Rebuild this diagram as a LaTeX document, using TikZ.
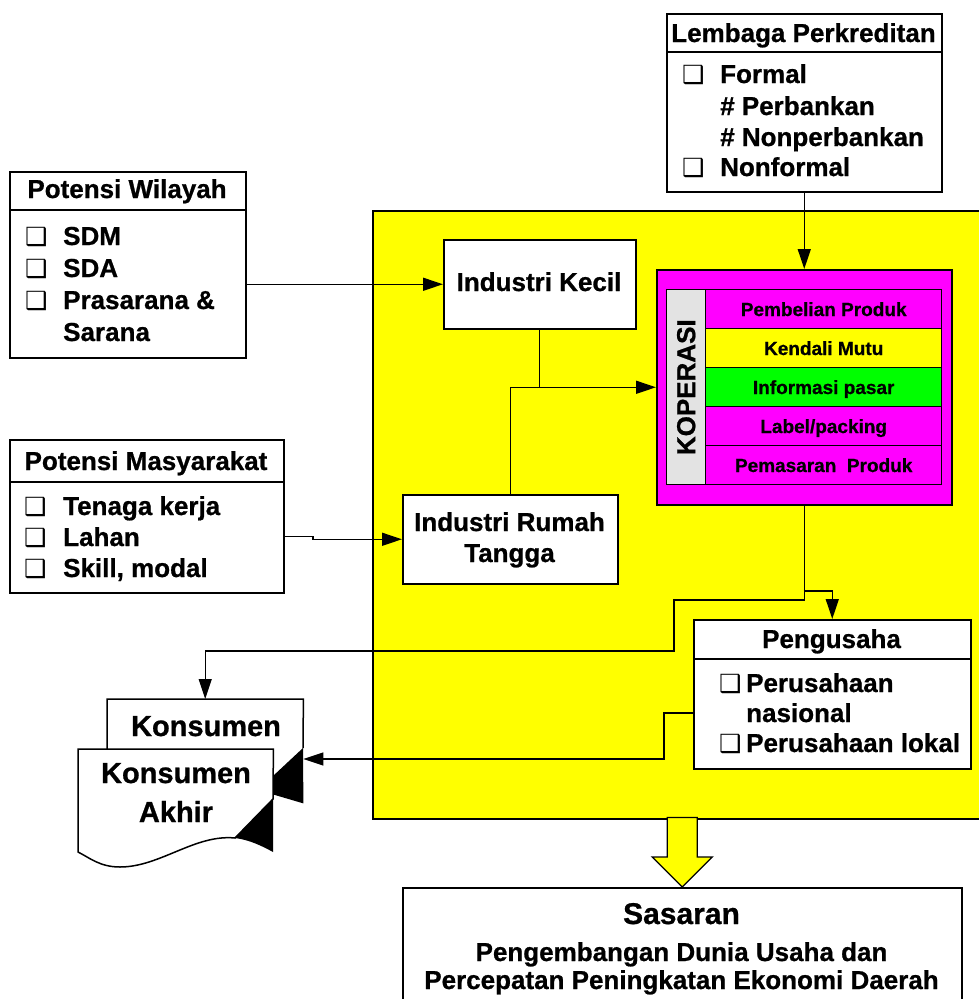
\documentclass[tikz,border=0pt]{standalone}
\usepackage{fontspec}
\setmainfont{Liberation Sans}[BoldFeatures={FakeBold=0.8}]
\newfontfamily\bulfont{DejaVu Sans}
\usetikzlibrary{arrows.meta,calc}
\definecolor{ylw}{HTML}{FFFF00}
\definecolor{mgt}{HTML}{FF00FF}
\definecolor{grn}{HTML}{00FF00}
\definecolor{gry}{HTML}{E3E3E3}
\begin{document}
\begin{tikzpicture}[x=1pt,y=-1pt,
  box/.style={draw, line width=1.5pt, inner sep=0, anchor=north west, fill=white},
  conn/.style={line width=1.3pt},
  arr/.style={conn, -{Triangle[length=20pt,width=13pt]}},
  big/.style={font=\fontsize{26}{30}\selectfont\bfseries, inner sep=0},
  ttl/.style={big, anchor=base},
  itm/.style={big, anchor=base west},
  bul/.style={inner sep=0, anchor=base west, font=\bulfont\fontsize{25}{25}\selectfont},
  row/.style={draw, line width=1.4pt, inner sep=0, anchor=north west, minimum width=236, minimum height=39, font=\fontsize{19}{22}\selectfont\bfseries, text height=13.6pt, text depth=0pt},
  divl/.style={line width=1.5pt}
]
\useasboundingbox (0,0) rectangle (979,999);

% yellow area
\node[box, fill=ylw, minimum width=612, minimum height=608] (yb) at (372,210) {};

% boxes
\node[box, minimum width=275, minimum height=178] (lp) at (666,13) {};
\draw[divl] (lp.west |- 0,52) -- (lp.east |- 0,52);
\node[box, minimum width=236, minimum height=186] (pw) at (9,171) {};
\draw[divl] (pw.west |- 0,210) -- (pw.east |- 0,210);
\node[box, minimum width=274, minimum height=153] (pm) at (9,439) {};
\draw[divl] (pm.west |- 0,482) -- (pm.east |- 0,482);
\node[box, minimum width=192, minimum height=89] (ik) at (443,239) {};
\node[box, minimum width=215, minimum height=89] (irt) at (402,494) {};
\node[box, fill=mgt, minimum width=295, minimum height=235] (kop) at (656,269) {};
\node[box, fill=gry, line width=1.4pt, minimum width=39, minimum height=195] (kbar) at (666,289) {};
\node[row, fill=mgt] (r1) at (705,289) {Pembelian Produk};
\node[row, fill=ylw] (r2) at (705,328) {Kendali Mutu};
\node[row, fill=grn] (r3) at (705,367) {Informasi pasar};
\node[row, fill=mgt] (r4) at (705,406) {Label/packing};
\node[row, fill=mgt] (r5) at (705,445) {Pemasaran\ \ Produk};
\node[box, minimum width=277, minimum height=149] (pg) at (693,619) {};
\draw[divl] (pg.west |- 0,659) -- (pg.east |- 0,659);
\node[box, minimum width=559, minimum height=120] (sas) at (402,887) {};

% block arrow
\draw[line width=1.3pt, fill=ylw, line join=miter] (sas.north) -- ++(-30,-30) -- ++(15,0) -- ++(0,-39.5) -- ++(30,0) -- ++(0,39.5) -- ++(15,0) -- cycle;

% connector points
\coordinate (j1) at (313,536.5);
\coordinate (c0) at (803.5,591);
\coordinate (c1) at (674,600);
\coordinate (c2) at (674,651);
\coordinate (c3) at (664,713);
\coordinate (c4) at (664,759);

% document shapes (Konsumen)
\node[inner sep=0, anchor=north west, minimum width=196, minimum height=104] (kb) at (107,699) {};
\node[inner sep=0, anchor=north west, minimum width=195, minimum height=103] (kf) at (78,749) {};
\filldraw[fill=white, line width=1.5pt] (107,770) -- (kb.north west) -- (kb.north east) -- (303,748);
\fill[black] (303,748) -- (258,790) -- (kb.south east) -- cycle;
\filldraw[fill=white, line width=1.5pt, line join=miter] (kf.north west) -- (kf.north east) -- (273,799) -- (235,838) .. controls (195,834) and (160,867) .. (120,867) .. controls (100,867) and (90,858) .. (78,852) -- cycle;
\fill[black] (273,799) -- (235,838) .. controls (250,840) and (262,846) .. (273,852) -- cycle;

% connectors
\draw[arr] (pw.east |- ik.west) -- (ik.west);
\draw[arr] (pm.east |- j1) -- (j1) -- (j1 |- irt.west) -- (irt.west);
\draw[arr] (ik.south) -- (ik.south |- kop.west) -- (kop.west);
\draw[conn] (irt.north) -- (irt.north |- kop.west) -- (ik.south |- kop.west);
\draw[arr] (lp.south) -- (kop.north);
\draw[arr] (kop.south) -- (kop.south |- c1) -- (c1) -- (c2) -- (c2 -| kb.north) -- (kb.north);
\draw[arr] (c0) -| (pg.north);
\draw[arr] (pg.west |- c3) -- (c3) -- (c4) -- (c4 -| kb.east);

% texts: Lembaga
\node[ttl] (tl0) at (803.5,42) {Lembaga Perkreditan};
\node[bul] (bl1) at (682,83) {❑};
\node[itm] (tl1) at (720,83) {Formal};
\node[itm] (tl2) at (720,115) {\# Perbankan};
\node[itm] (tl3) at (720,146) {\# Nonperbankan};
\node[bul] (bl4) at (682,176) {❑};
\node[itm] (tl4) at (720,176) {Nonformal};

% Potensi Wilayah
\node[ttl] (tw0) at (127,198) {Potensi Wilayah};
\node[bul] (bw1) at (25,245) {❑};
\node[itm] (tw1) at (63,245) {SDM};
\node[bul] (bw2) at (25,277) {❑};
\node[itm] (tw2) at (63,277) {SDA};
\node[bul] (bw3) at (25,309) {❑};
\node[itm] (tw3) at (63,309) {Prasarana \&};
\node[itm] (tw4) at (63,341) {Sarana};

% Potensi Masyarakat
\node[ttl] (tm0) at (146,470) {Potensi Masyarakat};
\node[bul] (bm1) at (24,515) {❑};
\node[itm] (tm1) at (63,515) {Tenaga kerja};
\node[bul] (bm2) at (24,546) {❑};
\node[itm] (tm2) at (63,546) {Lahan};
\node[bul] (bm3) at (24,577) {❑};
\node[itm] (tm3) at (63,577) {Skill, modal};

% Industri
\node[ttl] (tik) at (539,291) {Industri Kecil};
\node[ttl] (tir1) at (509.5,531) {Industri Rumah};
\node[ttl] (tir2) at (509.5,562) {Tangga};

% Koperasi label
\node[big, rotate=90, anchor=center] (tkop) at (kbar.center) {KOPERASI};

% Pengusaha
\node[ttl] (tp0) at (831.5,648) {Pengusaha};
\node[bul] (bp1) at (719,692) {❑};
\node[itm] (tp1) at (746,692) {Perusahaan};
\node[itm] (tp2) at (746,722) {nasional};
\node[bul] (bp3) at (719,752) {❑};
\node[itm] (tp3) at (746,752) {Perusahaan lokal};

% Konsumen
\node[font=\fontsize{29}{32}\selectfont\bfseries, anchor=base, inner sep=0] (tk1) at (206,736) {Konsumen};
\node[font=\fontsize{29}{32}\selectfont\bfseries, anchor=base, inner sep=0] (tk2) at (176,783) {Konsumen};
\node[font=\fontsize{29}{32}\selectfont\bfseries, anchor=base, inner sep=0] (tk3) at (176,822) {Akhir};

% Sasaran
\node[font=\fontsize{30}{34}\selectfont\bfseries, anchor=base, inner sep=0] (ts0) at (681.5,924) {Sasaran};
\node[ttl] (ts1) at (681.5,961) {Pengembangan Dunia Usaha dan};
\node[ttl] (ts2) at (681.5,989) {Percepatan Peningkatan Ekonomi Daerah};
\end{tikzpicture}
\end{document}
